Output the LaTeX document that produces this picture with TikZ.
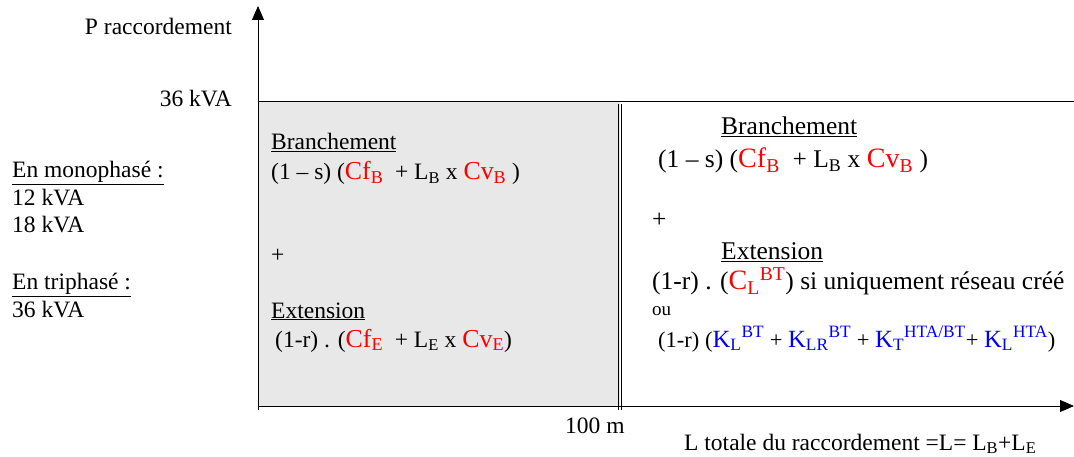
\documentclass[tikz,border=0pt]{standalone}
\usepackage{fontspec}
\setmainfont{Liberation Serif}
\usepackage{xcolor}
\usetikzlibrary{arrows.meta}

\definecolor{formred}{RGB}{255,0,0}
\definecolor{formblue}{RGB}{0,0,255}
\definecolor{zonegray}{RGB}{232,232,232}
\newcommand{\subtxt}[1]{\textsubscript{#1}}
\newcommand{\suptxt}[1]{\textsuperscript{#1}}
\makeatletter
\newcommand{\rd}[1]{{\fontsize{\fpeval{1.1*\f@size}}{\baselineskip}\selectfont\textcolor{formred}{#1}}}
\newcommand{\bl}[1]{{\fontsize{\fpeval{1.1*\f@size}}{\baselineskip}\selectfont\textcolor{formblue}{#1}}}
\makeatother

\tikzset{
  txt/.style={anchor=base west,inner sep=0pt,font=\fontsize{23.5}{27}\selectfont},
  txtr/.style={anchor=base east,inner sep=0pt,font=\fontsize{23.5}{27}\selectfont},
  txtb/.style={anchor=base west,inner sep=0pt,font=\fontsize{25.5}{29}\selectfont},
  axis/.style={line width=0.9pt,-{Triangle[width=12pt,length=14pt]}}
}

\begin{document}
\begin{tikzpicture}[x=1pt,y=-1pt,line join=round]
  \useasboundingbox (0,0) rectangle (1074,457);
  \coordinate (O) at (258,406);
  \coordinate (Ytop) at (258,6);
  \coordinate (Xend) at (1074,406);
  \coordinate (Lim) at (258,101);
  \coordinate (LimR) at (1074,101);
  \coordinate (Mid) at (620,101);
  \coordinate (MidB) at (620,406);
  \fill[zonegray] (Lim) rectangle (MidB);
  \draw[line width=0.9pt] (Lim) -- (LimR);
  \draw[line width=0.7pt] (618.5,104) -- (618.5,410);
  \draw[line width=0.7pt] (621.5,104) -- (621.5,410);
  \draw[axis] (258,410) -- (Ytop);
  \draw[axis] (O) -- (Xend);
  % axis labels
  \node[txtr] (pr) at (232,35) {P raccordement};
  \node[txtr] (p36) at (232,107) {36 kVA};
  \node[txt] (mono) at (12,178) {\underline{En monophasé :}};
  \node[txt] (k12) at (12,206) {12 kVA};
  \node[txt] (k18) at (12,233) {18 kVA};
  \node[txt] (tri) at (12,290) {\underline{En triphasé :}};
  \node[txt] (k36) at (12,317) {36 kVA};
  \node[txt] (l100) at (565,433) {100 m};
  \node[txt] (ltot) at (684,450) {L totale du raccordement =L= L\subtxt{B}+L\subtxt{E}};
  % gray zone
  \node[txt] (brA) at (271,150) {\underline{Branchement}};
  \node[txt] (fbA) at (271,180) {(1 – s) (\rd{Cf\subtxt{B}}\ \ + L\subtxt{B} x \rd{Cv\subtxt{B}} )};
  \node[txt] (plA) at (271,263) {+};
  \node[txt] (exA) at (271,318) {\underline{Extension}};
  \node[txt] (feA) at (275,347) {(1-r) . (\rd{Cf\subtxt{E}}\ \ + L\subtxt{E} x \rd{Cv\subtxt{E}})};
  % right zone
  \node[txtb] (brB) at (721,135) {\underline{Branchement}};
  \node[txtb] (fbB) at (658,168) {(1 – s) (\rd{Cf\subtxt{B}}\ \ + L\subtxt{B} x \rd{Cv\subtxt{B}} )};
  \node[txtb] (plB) at (652,228) {+};
  \node[txtb] (exB) at (721,260) {\underline{Extension}};
  \node[txtb] (feB) at (652,290) {(1-r) . (\rd{C\subtxt{L}\suptxt{BT}}) si uniquement réseau créé};
  \node[anchor=base west,inner sep=0pt,font=\fontsize{19}{22}\selectfont] (ou) at (652,315) {ou};
  \node[txtb,font=\fontsize{22.5}{26}\selectfont] (fkB) at (658,347) {(1-r) (\bl{K\subtxt{L}\suptxt{BT}} + \bl{K\subtxt{LR}\suptxt{BT}} + \bl{K\subtxt{T}\suptxt{HTA/BT}}+ \bl{K\subtxt{L}\suptxt{HTA}})};
\end{tikzpicture}
\end{document}
